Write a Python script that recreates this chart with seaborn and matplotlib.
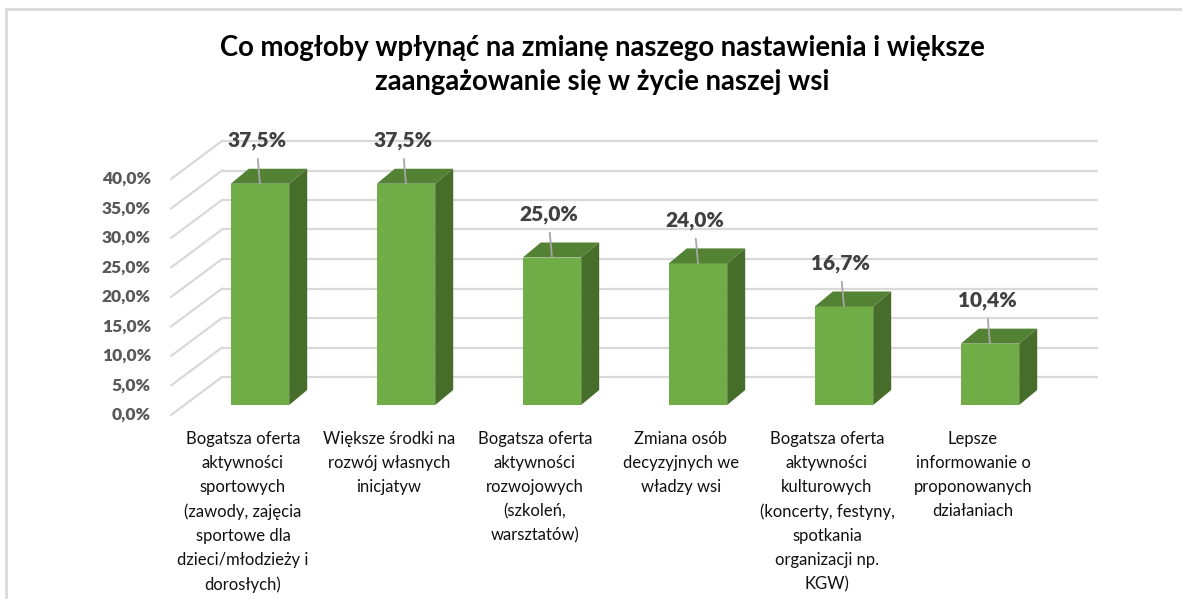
import matplotlib
matplotlib.use("Agg")
import matplotlib.pyplot as plt
import seaborn as sns
import pandas as pd
from matplotlib.patches import Polygon, Rectangle
from matplotlib.transforms import offset_copy

# data
categories = [
    "Bogatsza oferta\naktywności\nsportowych\n(zawody, zajęcia\nsportowe dla\ndzieci/młodzieży i\ndorosłych)",
    "Większe środki na\nrozwój własnych\ninicjatyw",
    "Bogatsza oferta\naktywności\nrozwojowych\n(szkoleń,\nwarsztatów)",
    "Zmiana osób\ndecyzyjnych we\nwładzy wsi",
    "Bogatsza oferta\naktywności\nkulturowych\n(koncerty, festyny,\nspotkania\norganizacji np.\nKGW)",
    "Lepsze\ninformowanie o\nproponowanych\ndziałaniach",
]
values = [0.375, 0.375, 0.250, 0.240, 0.167, 0.104]
value_labels = ["37,5%", "37,5%", "25,0%", "24,0%", "16,7%", "10,4%"]
yticks = [0.0, 0.05, 0.10, 0.15, 0.20, 0.25, 0.30, 0.35, 0.40]
ytick_labels = ["0,0%", "5,0%", "10,0%", "15,0%", "20,0%", "25,0%", "30,0%", "35,0%", "40,0%"]
title = "Co mogłoby wpłynąć na zmianę naszego nastawienia i większe\nzaangażowanie się w życie naszej wsi"

front_col = "#70AD47"
top_col = "#548235"
side_col = "#476D2B"
grid_col = "#D9D9D9"

sns.set_style("white")
plt.rcParams["font.family"] = ["Lato", "DejaVu Sans"]

W, H = 1182, 599
fig = plt.figure(figsize=(W / 100, H / 100), dpi=100)

# axes = plane of the bar fronts (pixel geometry of the reference)
left_px, right_px, base_px, top_px = 187, 1063, 405, 169
ax = fig.add_axes([left_px / W, (H - base_px) / H, (right_px - left_px) / W, (base_px - top_px) / H])

df = pd.DataFrame({"cat": range(len(values)), "val": values})
sns.barplot(data=df, x="cat", y="val", color=front_col, saturation=1, width=0.40,
            ax=ax, zorder=3, linewidth=0)
ax.set_xlim(-0.5, len(values) - 0.5)
ax.set_ylim(0, 0.40)
ax.axis("off")

px_x = (right_px - left_px) / len(values)   # pixels per category
px_y = (base_px - top_px) / 0.40            # pixels per unit value

# bar depth (3D faces)
bdx, bdy = 18 / px_x, 15 / px_y
for p in ax.patches:
    x0 = p.get_x()
    x1 = x0 + p.get_width()
    h = p.get_height()
    top = Polygon([(x0, h), (x1, h), (x1 + bdx, h + bdy), (x0 + bdx, h + bdy)],
                  closed=True, facecolor=top_col, edgecolor="none", zorder=3, clip_on=False)
    side = Polygon([(x1, 0), (x1 + bdx, bdy), (x1 + bdx, h + bdy), (x1, h)],
                   closed=True, facecolor=side_col, edgecolor="none", zorder=3, clip_on=False)
    ax.add_patch(top)
    ax.add_patch(side)

# back wall grid and left wall diagonals
wdx, wdy = 35 / px_x, 28 / px_y
fdx, fdy = -16 / px_x, -10 / px_y
for t in yticks:
    ax.plot([-0.5 + wdx, len(values) - 0.5 + wdx], [t + wdy, t + wdy],
            color=grid_col, lw=1.6, zorder=1, clip_on=False, solid_capstyle="butt")
    ax.plot([-0.5 + fdx, -0.5 + wdx], [t + fdy, t + wdy],
            color=grid_col, lw=1.6, zorder=1, clip_on=False)

# y tick labels on the front plane
ytr = offset_copy(ax.transData, fig=fig, x=-20, y=0, units="dots")
for t, lab in zip(yticks, ytick_labels):
    ax.text(-0.5 + fdx, t + fdy, lab, transform=ytr, ha="right", va="center",
            fontsize=12.5, fontweight="heavy", color="#595959")

# category labels
for i, lab in enumerate(categories):
    ax.text(i + fdx, -0.0, lab, transform=offset_copy(ax.transData, fig=fig, x=-1, y=-26, units="dots"),
            ha="center", va="top", fontsize=12, color="#111111", linespacing=1.62)

# data labels with leader lines
for i, (v, lab) in enumerate(zip(values, value_labels)):
    ax.annotate(lab, xy=(i, v), xytext=(-3, 43), textcoords="offset pixels",
                ha="center", va="center", fontsize=15, fontweight="heavy", color="#404040",
                annotation_clip=False,
                arrowprops=dict(arrowstyle="-", color="#A6A6A6", lw=1.3,
                                shrinkA=4, shrinkB=0, relpos=(0.5, 0.0)))

fig.text(602 / W, (H - 65) / H, title, ha="center", va="center", fontsize=19.8,
         fontweight="bold", color="#000000", linespacing=1.4)

# chart frame
fig.patches.append(Rectangle((6 / W, -0.1), 1.2, (H - 9) / H + 0.1, transform=fig.transFigure,
                             facecolor="none", edgecolor="#D9D9D9", lw=2, zorder=0))

fig.savefig("out.png", dpi=100)
